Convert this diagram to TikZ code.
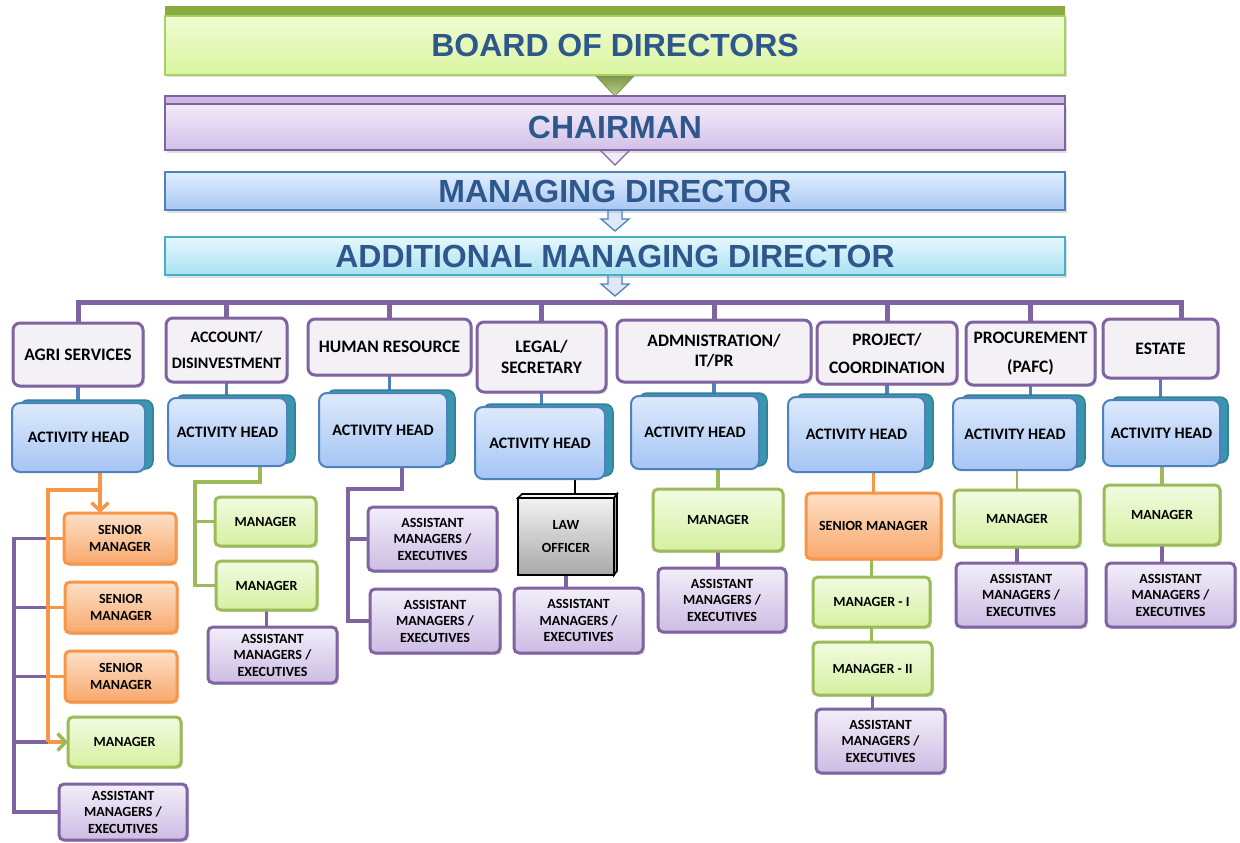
\documentclass[tikz,border=0pt]{standalone}
\usepackage{fontspec}
\setmainfont{Carlito}
\newfontfamily\titlefont{Liberation Sans}
\usetikzlibrary{arrows.meta,calc,shadows}
\definecolor{purp}{RGB}{128,100,162}
\definecolor{deptfill}{RGB}{243,241,245}
\definecolor{ahborder}{RGB}{79,129,189}
\definecolor{ahtop}{RGB}{222,234,252}
\definecolor{ahbot}{RGB}{165,197,244}
\definecolor{ahshadow}{RGB}{58,150,175}
\definecolor{orborder}{RGB}{247,150,70}
\definecolor{ortop}{RGB}{253,224,200}
\definecolor{orbot}{RGB}{248,168,108}
\definecolor{grborder}{RGB}{155,187,89}
\definecolor{grtop}{RGB}{242,251,226}
\definecolor{grbot}{RGB}{214,240,160}
\definecolor{putop}{RGB}{242,238,249}
\definecolor{pubot}{RGB}{205,188,228}
\definecolor{titletext}{RGB}{46,88,140}
\definecolor{bdtop}{RGB}{240,252,210}
\definecolor{bdbot}{RGB}{216,245,160}
\definecolor{bdborder}{RGB}{168,208,96}
\definecolor{bdstrip}{RGB}{138,171,63}
\definecolor{chtop}{RGB}{242,236,249}
\definecolor{chbot}{RGB}{210,192,232}
\definecolor{chstrip}{RGB}{205,185,228}
\definecolor{mdtop}{RGB}{226,238,253}
\definecolor{mdbot}{RGB}{168,199,244}
\definecolor{amdtop}{RGB}{230,247,252}
\definecolor{amdbot}{RGB}{168,226,243}
\definecolor{amdborder}{RGB}{75,172,198}
\definecolor{arrowfill}{RGB}{222,233,248}
\definecolor{lawtop}{RGB}{242,242,242}
\definecolor{lawbot}{RGB}{168,168,168}
\pgfdeclarelayer{background}
\pgfdeclarelayer{paper}
\pgfsetlayers{paper,background,main}
\newcommand\bx[7]{\node[#1,minimum width={(#5)-(#3)},minimum height={(#6)-(#4)}] (#2) at ({((#3)+(#5))/2},{((#4)+(#6))/2}) {#7};}
\newcommand\ahbx[6]{\bx{ahsh}{#1s}{#2+8}{#3-3}{#4+8}{#5-3}{}\bx{ahd}{#1}{#2}{#3}{#4}{#5}{#6}}
\tikzset{
  base/.style={inner sep=0pt,outer sep=0pt,align=center},
  titlebox/.style={base,line width=1.6pt,font=\titlefont\bfseries\fontsize{32}{36}\selectfont,text=titletext,
     drop shadow={opacity=0.25,shadow xshift=1.5pt,shadow yshift=-2.5pt}},
  dept/.style={base,draw=purp,line width=3pt,rounded corners=7pt,fill=deptfill,
     font=\bfseries\fontsize{17.5}{26}\selectfont,drop shadow={opacity=0.2,shadow xshift=2pt,shadow yshift=-2pt}},
  ahd/.style={base,draw=ahborder,line width=2pt,rounded corners=8pt,top color=ahtop,bottom color=ahbot,
     font=\bfseries\fontsize{16}{19}\selectfont},
  ahsh/.style={base,draw=ahshadow!85!black,line width=1.5pt,rounded corners=8pt,fill=ahshadow},
  small/.style={base,line width=3pt,rounded corners=5pt,font=\bfseries\fontsize{14}{16.5}\selectfont,
     drop shadow={opacity=0.25,shadow xshift=2pt,shadow yshift=-2pt}},
  orbox/.style={small,draw=orborder,top color=ortop,bottom color=orbot},
  grbox/.style={small,draw=grborder,top color=grtop,bottom color=grbot},
  pubox/.style={small,draw=purp,top color=putop,bottom color=pubot},
  lawbox/.style={base,draw=black,line width=1.6pt,top color=lawtop,bottom color=lawbot,
     font=\bfseries\fontsize{14}{23}\selectfont},
  pbar/.style={draw=purp,line width=5pt,line join=miter},
  pconn/.style={draw=purp,line width=3.5pt,line join=miter},
  bconn/.style={draw=ahborder,line width=3.5pt},
  oconn/.style={draw=orborder,line width=3.5pt,line join=miter},
  gconn/.style={draw=grborder,line width=3.5pt,line join=miter},
  kconn/.style={draw=black,line width=2.5pt},
  barb/.tip={Straight Barb[length=8pt,width=17pt]},
}
\begin{document}
\begin{tikzpicture}[x=1pt,y=-1pt]
\useasboundingbox (0,0) rectangle (1240,843);
\begin{pgfonlayer}{paper}
\fill[white] (0,0) rectangle (1240,843);
\end{pgfonlayer}
% ---------- top hierarchy ----------
\bx{base,fill=bdstrip}{bdstrip}{165}{6}{1065}{16}{}
\bx{titlebox,draw=bdborder,top color=bdtop,bottom color=bdbot}{board}{165}{16}{1065}{75}{BOARD OF DIRECTORS}
\bx{base,draw=purp,line width=1.6pt,fill=chstrip}{chstrip}{165}{96}{1065}{104}{}
\bx{titlebox,draw=purp,top color=chtop,bottom color=chbot}{chair}{165}{104}{1065}{150}{CHAIRMAN}
\bx{titlebox,draw=ahborder,top color=mdtop,bottom color=mdbot}{md}{165}{172}{1065}{210}{MANAGING DIRECTOR}
\bx{titlebox,draw=amdborder,top color=amdtop,bottom color=amdbot}{amd}{165}{237}{1065}{275}{ADDITIONAL MANAGING DIRECTOR}
% ---------- departments ----------
\bx{dept}{d1}{13}{323}{143}{386}{AGRI SERVICES}
\bx{dept,font=\bfseries\fontsize{16}{26}\selectfont}{d2}{166}{318}{287}{382}{ACCOUNT/\\DISINVESTMENT}
\bx{dept}{d3}{308}{319}{471}{375}{HUMAN RESOURCE}
\bx{dept,font=\bfseries\fontsize{17.5}{20.5}\selectfont}{d4}{477}{322}{606}{392}{LEGAL/\\SECRETARY}
\bx{dept,font=\bfseries\fontsize{17.5}{20}\selectfont}{d5}{617}{320}{811}{382}{ADMNISTRATION/\\IT/PR}
\bx{dept,font=\bfseries\fontsize{17.5}{28}\selectfont}{d6}{817}{322}{957}{384}{PROJECT/\\COORDINATION}
\bx{dept,font=\bfseries\fontsize{17.5}{29}\selectfont}{d7}{966}{322}{1095}{385}{PROCUREMENT\\(PAFC)}
\bx{dept}{d8}{1103}{319}{1218}{378}{ESTATE}
% ---------- activity heads ----------
\ahbx{ah1}{12}{403}{145}{472}{ACTIVITY HEAD}
\ahbx{ah2}{168}{398}{287}{466}{ACTIVITY HEAD}
\ahbx{ah3}{319}{393}{447}{467}{ACTIVITY HEAD}
\ahbx{ah4}{475}{407}{605}{479}{ACTIVITY HEAD}
\ahbx{ah5}{631}{396}{759}{469}{ACTIVITY HEAD}
\ahbx{ah6}{788}{397}{925}{472}{ACTIVITY HEAD}
\ahbx{ah7}{953}{398}{1077}{470}{ACTIVITY HEAD}
\ahbx{ah8}{1103}{400}{1220}{466}{ACTIVITY HEAD}
% ---------- column 1 ----------
\bx{orbox}{sm1}{64}{513}{176}{564}{SENIOR\\MANAGER}
\bx{orbox}{sm2}{65}{582}{177}{633}{SENIOR\\MANAGER}
\bx{orbox}{sm3}{65}{651}{177}{702}{SENIOR\\MANAGER}
\bx{grbox}{m1}{68}{717}{181}{767}{MANAGER}
\bx{pubox}{a1}{59}{784}{187}{840}{ASSISTANT\\MANAGERS /\\EXECUTIVES}
% ---------- column 2 ----------
\bx{grbox}{m2a}{215}{497}{316}{546}{MANAGER}
\bx{grbox}{m2b}{216}{561}{317}{610}{MANAGER}
\bx{pubox}{a2}{208}{627}{337}{683}{ASSISTANT\\MANAGERS /\\EXECUTIVES}
% ---------- column 3 ----------
\bx{pubox}{a3a}{368}{507}{497}{571}{ASSISTANT\\MANAGERS /\\EXECUTIVES}
\bx{pubox}{a3b}{370}{589}{500}{653}{ASSISTANT\\MANAGERS /\\EXECUTIVES}
% ---------- column 4 ----------
\bx{lawbox}{law}{518}{498}{614}{575}{LAW\\OFFICER}
\draw[black,line width=1.6pt,fill=lawtop] (law.north west) -- ++(4,-4) -- ($(law.north east)+(3,-4)$) -- (law.north east) -- cycle;
\draw[black,line width=1.6pt,fill=lawbot] (law.north east) -- ++(3,-4) -- ($(law.south east)+(3,-4)$) -- (law.south east) -- cycle;
\bx{pubox}{a4}{514}{588}{643}{653}{ASSISTANT\\MANAGERS /\\EXECUTIVES}
% ---------- column 5 ----------
\bx{grbox}{m5}{653}{489}{783}{551}{MANAGER}
\bx{pubox}{a5}{658}{568}{786}{632}{ASSISTANT\\MANAGERS /\\EXECUTIVES}
% ---------- column 6 ----------
\bx{orbox}{sm6}{806}{493}{941}{559}{SENIOR MANAGER}
\bx{grbox}{m6a}{813}{577}{930}{627}{MANAGER - I}
\bx{grbox}{m6b}{813}{642}{932}{695}{MANAGER - II}
\bx{pubox}{a6}{816}{709}{945}{773}{ASSISTANT\\MANAGERS /\\EXECUTIVES}
% ---------- column 7 ----------
\bx{grbox}{m7}{954}{490}{1080}{547}{MANAGER}
\bx{pubox}{a7}{956}{563}{1086}{627}{ASSISTANT\\MANAGERS /\\EXECUTIVES}
% ---------- column 8 ----------
\bx{grbox}{m8}{1104}{485}{1220}{545}{MANAGER}
\bx{pubox}{a8}{1106}{563}{1235}{627}{ASSISTANT\\MANAGERS /\\EXECUTIVES}
% ---------- connectors ----------
\coordinate (barL) at (80,302);
\coordinate (barR) at (1181,302);
\coordinate (oX) at (48,490);
\coordinate (ob) at (100,490);
\coordinate (pX) at (14,490);
\coordinate (g2a) at (260,482);
\coordinate (g2b) at (195,482);
\coordinate (p3a) at (402,489);
\coordinate (p3b) at (348,489);
\coordinate (k4) at (575,490);
\begin{pgfonlayer}{background}
% triangles and block arrows
\draw[grborder!80!black,line width=0.8pt,top color=grborder!80!black,bottom color=grborder!70] ($(board.south)+(-20,0)$) -- ($(board.south)+(20,0)$) -- ($(board.south)+(0,21)$) -- cycle;
\draw[purp,line width=1.2pt,fill=chtop] ($(chair.south)+(-15,0)$) -- ($(chair.south)+(15,0)$) -- ($(chair.south)+(0,15)$) -- cycle;
\draw[ahborder,line width=1.3pt,fill=arrowfill,line join=miter] (md.south) ++(-7,0) -- ++(0,9) -- ++(-7,0) -- ++(14,12) -- ++(14,-12) -- ++(-7,0) -- ++(0,-9) -- cycle;
\draw[ahborder,line width=1.3pt,fill=arrowfill,line join=miter] (amd.south) ++(-7,0) -- ++(0,9) -- ++(-7,0) -- ++(14,12) -- ++(14,-12) -- ++(-7,0) -- ++(0,-9) -- cycle;
% bar and drops
\draw[pbar] (d1.north) -- (d1.north |- barL) -- (barR) -- (barR |- d8.north);
\foreach \d in {d2,d3,d4,d5,d6,d7} \draw[pbar] (\d.north |- barL) -- (\d.north);
% department to activity head
\foreach \i in {1,...,8} \draw[bconn] (d\i.south) -- (d\i.south |- ah\i.north);
% column 1
\draw[pconn] (oX |- sm1.west) -- (pX |- sm1.west) -- (pX |- a1.west) -- (a1.west);
\foreach \b in {sm2,sm3,m1} \draw[pconn] (pX |- \b.west) -- (oX |- \b.west);
\draw[oconn] (ob |- ah1.south) -- (ob) -- (oX) -- (oX |- m1.west);
\foreach \b in {sm1,sm2,sm3} \draw[oconn] (oX |- \b.west) -- (\b.west);
% column 2
\draw[gconn] (g2a |- ah2.south) -- (g2a) -- (g2b) -- (g2b |- m2b.west) -- (m2b.west);
\draw[gconn] (g2b |- m2a.west) -- (m2a.west);
\draw[pconn] (m2b.south) -- (m2b.south |- a2.north);
% column 3
\draw[pconn] (p3a |- ah3.south) -- (p3a) -- (p3b) -- (p3b |- a3b.west) -- (a3b.west);
\draw[pconn] (p3b |- a3a.west) -- (a3a.west);
% column 4
\draw[kconn] (k4 |- ah4.south) -- (k4 |- law.north);
\draw[pconn] (law.south) -- (law.south |- a4.north);
% column 5
\draw[gconn] (m5.north |- ah5.south) -- (m5.north);
\draw[pconn] (m5.south) -- (m5.south |- a5.north);
% column 6
\draw[oconn] (sm6.north |- ah6.south) -- (sm6.north);
\draw[gconn] (m6a.north |- sm6.south) -- (m6a.north);
\draw[gconn] (m6a.south) -- (m6a.south |- m6b.north);
\draw[pconn] (m6b.south) -- (m6b.south |- a6.north);
% column 7
\draw[gconn,line width=1.8pt] (m7.north |- ah7.south) -- (m7.north);
\draw[pconn] (m7.south) -- (m7.south |- a7.north);
% column 8
\draw[gconn] (m8.north |- ah8.south) -- (m8.north);
\draw[pconn] (m8.south) -- (m8.south |- a8.north);
\end{pgfonlayer}
% arrows of column 1 on top
\draw[oconn,-{barb}] (ob) -- (ob |- sm1.north);
\draw[oconn,-{barb[color=grborder]}] (oX |- m1.west) -- (m1.west);
\end{tikzpicture}
\end{document}
